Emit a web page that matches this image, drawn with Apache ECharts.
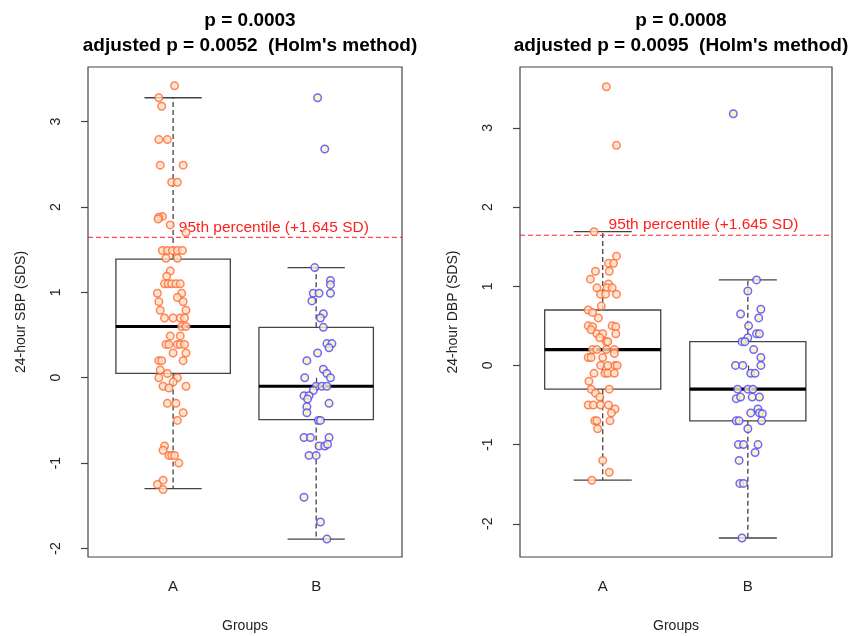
<!DOCTYPE html>
<html><head><meta charset="utf-8">
<script src="https://cdn.jsdelivr.net/npm/echarts@6/dist/echarts.min.js"></script>
<style>html,body{margin:0;padding:0;background:#fff}#c{width:862px;height:636px}</style>
</head><body><div id="c"></div>
<script>
// ---- data ----
const groups = ['A', 'B'];
const yTicks = [-2, -1, 0, 1, 2, 3];
const refLine = 1.645;
const refLabel = '95th percentile (+1.645 SD)';
const titles = ['p = 0.0003\nadjusted p = 0.0052  (Holm\'s method)', 'p = 0.0008\nadjusted p = 0.0095  (Holm\'s method)'];
const yNames = ['24-hour SBP (SDS)', '24-hour DBP (SDS)'];
// box stats: [lower whisker, Q1, median, Q3, upper whisker]
const sbpBoxA = [-1.30, 0.05, 0.60, 1.39, 3.28];
const sbpBoxB = [-1.89, -0.49, -0.10, 0.59, 1.29];
const dbpBoxA = [-1.45, -0.30, 0.20, 0.70, 1.69];
const dbpBoxB = [-2.18, -0.70, -0.30, 0.30, 1.08];
// points: [value, horizontal jitter]
const sbpA = [[3.42,0.01],[3.28,-0.10],[3.18,-0.08],[2.79,-0.10],[2.79,-0.04],[2.49,-0.09],[2.49,0.07],[2.29,-0.01],[2.29,0.03],[1.89,-0.075],[1.88,-0.10],[1.86,-0.105],[1.79,-0.02],[1.70,0.09],
[1.49,-0.075],[1.49,-0.04],[1.49,-0.005],[1.49,0.03],[1.49,0.065],[1.40,-0.05],[1.40,0.03],[1.25,-0.02],[1.19,-0.045],
[1.10,-0.06],[1.10,-0.035],[1.10,-0.01],[1.10,0.02],[1.10,0.05],
[0.99,-0.11],[0.99,0.06],[0.94,0.03],[0.89,-0.10],[0.89,0.07],[0.79,-0.09],[0.79,0.09],
[0.70,-0.06],[0.70,0.0],[0.70,0.05],[0.70,0.08],[0.60,0.06],[0.60,0.09],[0.49,-0.02],[0.49,0.05],
[0.39,-0.05],[0.39,-0.03],[0.39,0.03],[0.39,0.05],[0.39,0.08],[0.29,0.0],[0.29,0.09],
[0.20,-0.10],[0.20,-0.08],[0.20,0.07],[0.09,-0.09],[0.05,-0.04],[0.0,0.03],[0.0,-0.10],[-0.05,0.0],
[-0.10,-0.07],[-0.10,0.09],[-0.12,-0.03],[-0.30,-0.04],[-0.30,0.02],[-0.41,0.07],[-0.50,0.03],
[-0.80,-0.06],[-0.85,-0.07],[-0.91,-0.03],[-0.91,-0.01],[-0.91,0.01],[-1.00,0.04],[-1.20,-0.07],[-1.25,-0.11],[-1.31,-0.07]];
const sbpB = [[3.28,0.01],[2.68,0.06],[1.29,-0.01],[1.14,0.10],[1.09,0.10],[0.99,0.10],[0.99,-0.02],[0.99,0.02],[0.90,-0.03],[0.75,0.05],[0.70,0.03],[0.59,0.05],[0.40,0.075],[0.40,0.11],[0.35,0.09],[0.29,0.01],[0.20,-0.065],[0.10,0.05],[0.05,0.075],[0.0,0.10],[0.0,-0.08],[-0.10,0.0],[-0.10,0.04],[-0.10,0.075],[-0.15,-0.02],[-0.21,-0.085],[-0.21,-0.05],[-0.25,-0.06],[-0.30,0.09],[-0.34,-0.065],[-0.41,-0.065],[-0.50,0.015],[-0.50,0.03],[-0.70,-0.085],[-0.70,-0.04],[-0.70,0.09],[-0.80,0.02],[-0.80,0.06],[-0.78,0.08],[-0.91,-0.05],[-0.91,0.0],[-1.40,-0.085],[-1.69,0.03],[-1.89,0.075]];
const dbpA = [[3.52,0.025],[2.78,0.095],[1.69,-0.06],[1.38,0.095],[1.29,0.04],[1.29,0.075],[1.19,-0.05],[1.19,0.045],[1.09,-0.085],[1.03,0.04],[0.98,-0.04],[0.98,0.03],[0.98,0.065],[0.90,-0.015],[0.90,0.02],[0.90,0.095],[0.75,-0.01],[0.70,-0.10],[0.67,-0.07],[0.60,-0.03],[0.50,-0.10],[0.49,-0.07],[0.50,0.065],[0.49,0.09],[0.45,-0.08],[0.40,0.09],[0.40,-0.04],[0.40,0.0],[0.35,-0.02],[0.30,0.025],[0.30,0.035],[0.20,-0.07],[0.20,-0.04],[0.20,0.025],[0.20,0.08],[0.15,0.08],[0.10,-0.10],[0.10,-0.08],[0.10,0.0],[0.0,-0.015],[0.0,0.035],[0.0,0.085],[0.0,0.10],[-0.10,-0.06],[-0.10,0.015],[-0.10,0.035],[-0.10,0.08],[-0.20,-0.095],[-0.30,-0.08],[-0.35,-0.05],[-0.30,0.045],[-0.40,-0.02],[-0.50,-0.10],[-0.50,-0.065],[-0.50,-0.015],[-0.50,0.04],[-0.55,0.085],[-0.60,0.06],[-0.70,0.05],[-0.70,-0.055],[-0.70,-0.04],[-0.80,-0.035],[-1.20,0.0],[-1.35,0.045],[-1.45,-0.075]];
const dbpB = [[3.18,-0.10],[1.08,0.06],[0.94,0.0],[0.71,0.09],[0.65,-0.05],[0.60,0.075],[0.50,0.005],[0.40,0.06],[0.40,0.08],[0.35,0.0],[0.30,-0.04],[0.30,-0.02],[0.20,0.04],[0.10,0.09],[0.0,-0.085],[0.0,-0.035],[0.0,0.09],[-0.10,0.02],[-0.10,0.05],[-0.30,-0.07],[-0.30,0.0],[-0.30,0.035],[-0.42,-0.08],[-0.40,-0.05],[-0.40,0.03],[-0.40,0.08],[-0.55,0.07],[-0.60,0.08],[-0.60,0.02],[-0.61,0.10],[-0.70,-0.08],[-0.70,-0.06],[-0.70,0.095],[-0.80,0.0],[-1.00,-0.065],[-1.00,-0.03],[-1.00,0.07],[-1.10,0.05],[-1.20,-0.06],[-1.49,-0.055],[-1.49,-0.03],[-2.18,-0.04]];

// ---- rendering ----
const FONT = '"Liberation Sans", Arial, sans-serif';
const ink = '#444';
const red = '#ff1f1f';
const chart = echarts.init(document.getElementById('c'), null, {renderer: 'canvas'});

function toXY(pts, pos) { return pts.map(p => [pos + p[1], p[0]]); }

function boxRender(params, api) {
  const x = api.value(0);
  const lo = api.value(1), q1 = api.value(2), md = api.value(3), q3 = api.value(4), hi = api.value(5);
  const c = (xx, yy) => api.coord([xx, yy]);
  const bw = 0.4, sw = 0.2;
  const lt = c(x - bw, q3), rb = c(x + bw, q1);
  const line = (a, b, style) => ({type: 'line', shape: {x1: a[0], y1: a[1], x2: b[0], y2: b[1]}, style: style});
  const solid = {stroke: ink, lineWidth: 1.3};
  const dash = {stroke: ink, lineWidth: 1.3, lineDash: [5, 3]};
  return {type: 'group', children: [
    line(c(x, q3), c(x, hi), dash),
    line(c(x, q1), c(x, lo), dash),
    line(c(x - sw, hi), c(x + sw, hi), solid),
    line(c(x - sw, lo), c(x + sw, lo), solid),
    {type: 'rect', shape: {x: lt[0], y: lt[1], width: rb[0] - lt[0], height: rb[1] - lt[1]}, style: {fill: 'rgba(0,0,0,0)', stroke: ink, lineWidth: 1.3}},
    line(c(x - bw, md), c(x + bw, md), {stroke: '#000', lineWidth: 3.2})
  ]};
}

function refRender(params, api) {
  const cs = params.coordSys;
  const p = api.coord([api.value(0), api.value(1)]);
  return {type: 'group', children: [
    {type: 'line', shape: {x1: cs.x, y1: p[1], x2: cs.x + cs.width, y2: p[1]}, style: {stroke: red, lineWidth: 1, lineDash: [5, 3]}},
    {type: 'text', x: p[0], y: p[1] - 2, style: {text: refLabel, fill: red, font: '15.5px ' + FONT, textAlign: 'left', textVerticalAlign: 'bottom'}}
  ]};
}

const grids = [
  {left: 88, top: 67, width: 314, height: 490},
  {left: 520, top: 67, width: 312, height: 490}
];
const xr = [[0.405, 2.6], [0.43, 2.58]];
const yr = [[-2.1, 3.64], [-2.42, 3.77]];

const option = {
  backgroundColor: '#fff',
  animation: false,
  title: titles.map((t, i) => ({
    text: t, left: grids[i].left + grids[i].width / 2, top: 3, textAlign: 'center',
    textStyle: {fontFamily: FONT, fontSize: 19, fontWeight: 'bold', color: '#000', lineHeight: 25}
  })),
  grid: grids.map(g => Object.assign({show: true, borderColor: ink, borderWidth: 1.2, backgroundColor: 'transparent', containLabel: false, outerBoundsMode: 'none'}, g)),
  xAxis: [0, 1].map(i => ({
    type: 'value', gridIndex: i, min: xr[i][0], max: xr[i][1],
    name: 'Groups', nameLocation: 'middle', nameGap: 62,
    nameTextStyle: {fontFamily: FONT, fontSize: 14, color: '#222'},
    axisLine: {show: false}, splitLine: {show: false},
    axisTick: {show: true, length: 8, customValues: [1, 2], lineStyle: {color: ink, width: 1.2}},
    axisLabel: {show: true, customValues: [1, 2], margin: 22, fontFamily: FONT, fontSize: 15, color: '#222',
      formatter: v => groups[Math.round(v) - 1] || ''}
  })),
  yAxis: [0, 1].map(i => ({
    type: 'value', gridIndex: i, min: yr[i][0], max: yr[i][1],
    name: yNames[i], nameLocation: 'middle', nameGap: 60, nameRotate: 90,
    nameTextStyle: {fontFamily: FONT, fontSize: 14, color: '#222'},
    axisLine: {show: false}, splitLine: {show: false},
    axisTick: {show: true, length: 7, customValues: yTicks, lineStyle: {color: ink, width: 1.2}},
    axisLabel: {show: true, customValues: yTicks, rotate: 90, margin: 25, fontFamily: FONT, fontSize: 14, color: '#222'}
  })),
  series: []
};

const panels = [
  {box: [sbpBoxA, sbpBoxB], pts: [sbpA, sbpB]},
  {box: [dbpBoxA, dbpBoxB], pts: [dbpA, dbpB]}
];
const ptStyle = [
  {color: '#ffe0c4', borderColor: '#ff6a35', borderWidth: 1.5},
  {color: '#fff0c0', borderColor: '#4646ff', borderWidth: 1.5}
];
panels.forEach((p, i) => {
  option.series.push({
    type: 'custom', xAxisIndex: i, yAxisIndex: i, z: 2, silent: true,
    renderItem: boxRender,
    encode: {x: 0, y: [1, 2, 3, 4, 5]},
    data: p.box.map((b, k) => [k + 1].concat(b))
  });
  p.pts.forEach((pts, k) => {
    option.series.push({
      type: 'scatter', xAxisIndex: i, yAxisIndex: i, z: 5, silent: true,
      symbol: 'circle', symbolSize: 7.5,
      itemStyle: ptStyle[k],
      data: toXY(pts, k + 1)
    });
  });
  option.series.push({
    type: 'custom', xAxisIndex: i, yAxisIndex: i, z: 4, silent: true,
    renderItem: refRender,
    data: [[1.04, refLine]]
  });
});

chart.setOption(option);
</script>
</body></html>
